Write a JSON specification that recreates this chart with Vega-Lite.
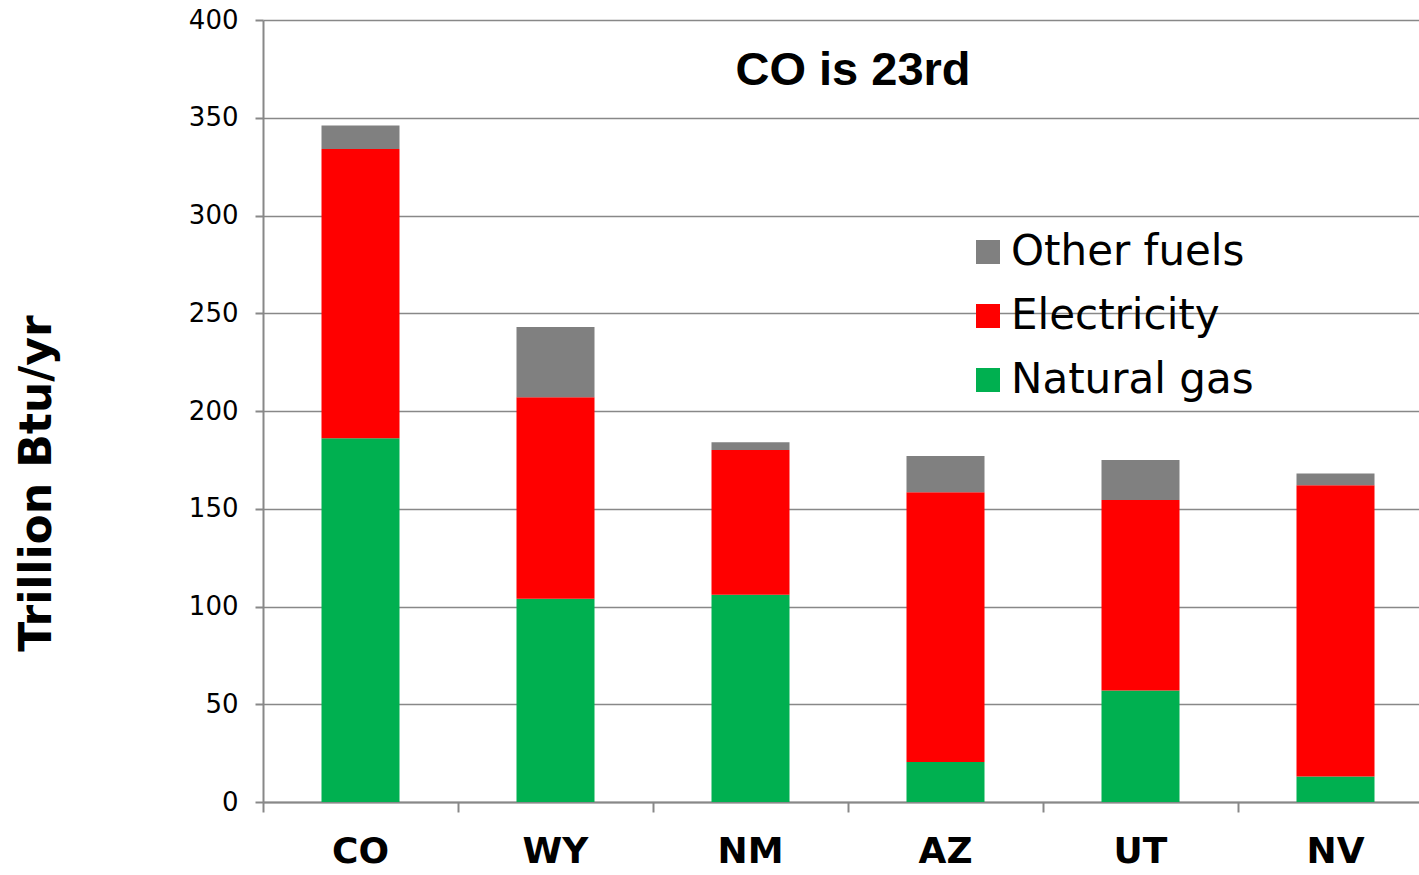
{
  "$schema": "https://vega.github.io/schema/vega-lite/v6.json",
  "autosize": "none",
  "width": 1170,
  "height": 782,
  "padding": {"left": 263, "top": 20, "right": 0, "bottom": 73},
  "background": "white",
  "title": {
    "text": "CO is 23rd",
    "font": "Liberation Sans",
    "fontSize": 47,
    "fontWeight": "bold",
    "color": "black",
    "anchor": "middle",
    "frame": "group",
    "offset": -125,
    "dx": 5,
    "baseline": "alphabetic"
  },
  "data": {
    "values": [
      {"state": "CO", "fuel": "Natural gas", "value": 186},
      {"state": "CO", "fuel": "Electricity", "value": 148},
      {"state": "CO", "fuel": "Other fuels", "value": 12},
      {"state": "WY", "fuel": "Natural gas", "value": 104},
      {"state": "WY", "fuel": "Electricity", "value": 103},
      {"state": "WY", "fuel": "Other fuels", "value": 36},
      {"state": "NM", "fuel": "Natural gas", "value": 106},
      {"state": "NM", "fuel": "Electricity", "value": 74},
      {"state": "NM", "fuel": "Other fuels", "value": 4},
      {"state": "AZ", "fuel": "Natural gas", "value": 20.5},
      {"state": "AZ", "fuel": "Electricity", "value": 138},
      {"state": "AZ", "fuel": "Other fuels", "value": 18.5},
      {"state": "UT", "fuel": "Natural gas", "value": 57},
      {"state": "UT", "fuel": "Electricity", "value": 97.5},
      {"state": "UT", "fuel": "Other fuels", "value": 20.5},
      {"state": "NV", "fuel": "Natural gas", "value": 13},
      {"state": "NV", "fuel": "Electricity", "value": 149},
      {"state": "NV", "fuel": "Other fuels", "value": 6}
    ]
  },
  "transform": [
    {"calculate": "indexof(['Natural gas','Electricity','Other fuels'], datum.fuel)", "as": "stackOrder"}
  ],
  "mark": {"type": "bar"},
  "encoding": {
    "x": {
      "field": "state",
      "type": "nominal",
      "sort": ["CO", "WY", "NM", "AZ", "UT", "NV"],
      "scale": {"paddingInner": 0.6, "paddingOuter": 0.3},
      "axis": {
        "title": null,
        "labelAngle": 0,
        "labelFont": "DejaVu Sans",
        "labelFontSize": 36,
        "labelFontWeight": "bold",
        "labelColor": "black",
        "labelPadding": 22,
        "domainColor": "#888888",
        "domainWidth": 2,
        "tickColor": "#888888",
        "tickWidth": 2,
        "tickSize": 10,
        "bandPosition": -0.75
      }
    },
    "y": {
      "field": "value",
      "type": "quantitative",
      "stack": "zero",
      "scale": {"domain": [0, 400], "nice": false},
      "axis": {
        "values": [0, 50, 100, 150, 200, 250, 300, 350, 400],
        "title": "Trillion Btu/yr",
        "titleFont": "DejaVu Sans",
        "titleFontSize": 44,
        "titleFontWeight": "bold",
        "titleColor": "black",
        "titleAngle": -90,
        "titleAlign": "center",
        "titleBaseline": "alphabetic",
        "titleX": -213,
        "titleY": 463,
        "labelFont": "DejaVu Sans",
        "labelFontSize": 26,
        "labelColor": "black",
        "labelPadding": 17,
        "domainColor": "#888888",
        "domainWidth": 2,
        "tickColor": "#888888",
        "tickWidth": 2,
        "tickSize": 8,
        "grid": true,
        "gridColor": "#888888",
        "gridWidth": 1.5
      }
    },
    "color": {
      "field": "fuel",
      "type": "nominal",
      "scale": {
        "domain": ["Other fuels", "Electricity", "Natural gas"],
        "range": ["#808080", "#ff0000", "#00b050"]
      },
      "legend": {
        "title": null,
        "orient": "none",
        "legendX": 704,
        "legendY": 211,
        "symbolType": "square",
        "symbolSize": 576,
        "symbolStrokeWidth": 0,
        "labelFont": "DejaVu Sans",
        "labelFontSize": 42,
        "labelColor": "black",
        "labelOffset": 2,
        "rowPadding": 22,
        "labelLimit": 400
      }
    },
    "order": {"field": "stackOrder", "type": "quantitative"}
  },
  "config": {
    "view": {"stroke": null},
    "axis": {"domainCap": "butt"}
  }
}
